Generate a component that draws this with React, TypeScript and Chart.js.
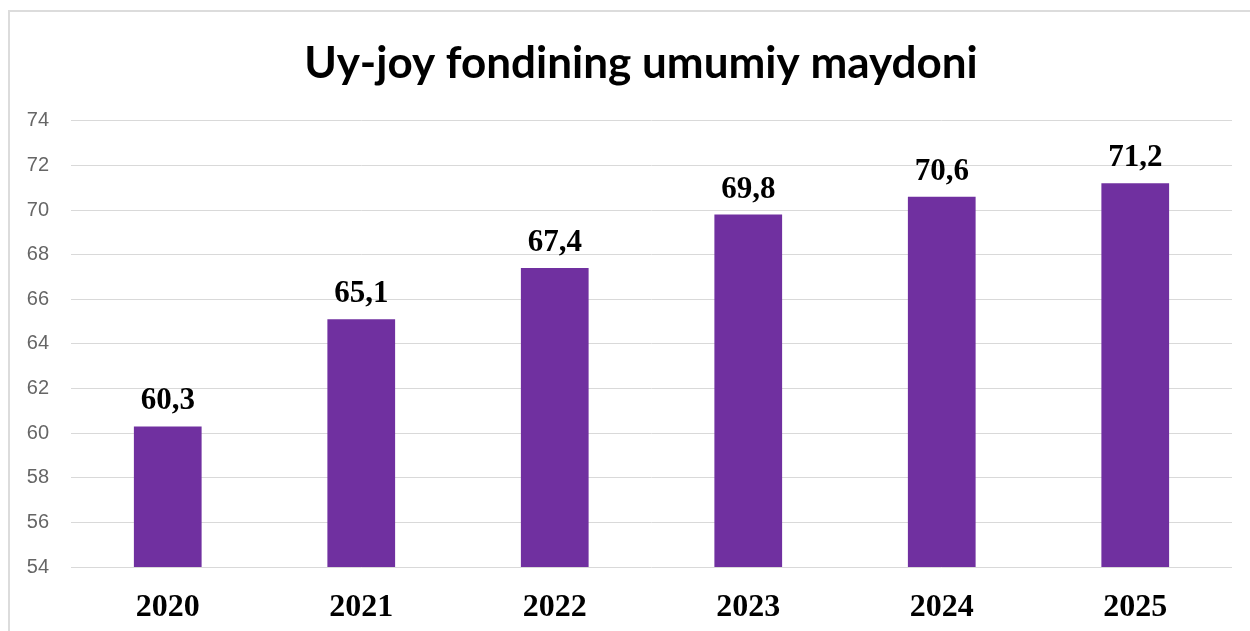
import React, { useEffect, useRef } from "react";
import { Chart, registerables } from "chart.js";

Chart.register(...registerables);

const TITLE = "Uy-joy fondining umumiy maydoni";
const YEARS = ["2020", "2021", "2022", "2023", "2024", "2025"];
const VALUES = [60.3, 65.1, 67.4, 69.8, 70.6, 71.2];
const Y_MIN = 54;
const Y_MAX = 74;
const Y_STEP = 2;

const BAR_COLOR = "#7030A0";
const GRID_COLOR = "#d9d9d9";

const fmt = (v: number) => v.toFixed(1).replace(".", ",");

const valueLabels = {
  id: "valueLabels",
  afterDatasetsDraw(chart: any) {
    const ctx = chart.ctx;
    const meta = chart.getDatasetMeta(0);
    ctx.save();
    ctx.font = "bold 31px 'Liberation Serif', 'Times New Roman', serif";
    ctx.fillStyle = "#000";
    ctx.textAlign = "center";
    ctx.textBaseline = "alphabetic";
    meta.data.forEach((bar: any, i: number) => {
      ctx.fillText(fmt(VALUES[i]), bar.x, bar.y - 17);
    });
    ctx.restore();
  },
};

// let the y-axis labels draw to the left of the (narrow) axis box
const widenYClip = {
  id: "widenYClip",
  afterLayout(chart: any) {
    const y = chart.scales.y;
    if (y) y.left = 0;
  },
};

export default function App() {
  const ref = useRef<HTMLCanvasElement | null>(null);

  useEffect(() => {
    document.body.style.overflow = "hidden";
    const chart = new Chart(ref.current as HTMLCanvasElement, {
      type: "bar",
      data: {
        labels: YEARS,
        datasets: [
          {
            data: VALUES,
            backgroundColor: BAR_COLOR,
            borderWidth: 0,
            barPercentage: 0.35,
            categoryPercentage: 1,
          },
        ],
      },
      options: {
        responsive: false,
        animation: false,
        layout: { padding: { left: 42, right: 18, top: 0, bottom: 0 } },
        plugins: {
          legend: { display: false },
          tooltip: { enabled: false },
          title: {
            display: true,
            text: TITLE,
            color: "#000",
            font: { family: "Lato, 'Open Sans', sans-serif", size: 44, weight: "bold" },
            padding: { top: 27, bottom: 31 },
          },
        },
        scales: {
          x: {
            grid: { display: false, drawTicks: false },
            border: { display: false },
            ticks: {
              color: "#000",
              font: { family: "'Liberation Serif', 'Times New Roman', serif", size: 32, weight: "bold" },
              padding: 22,
            },
            afterFit: (scale: any) => {
              scale.height = 64;
            },
          },
          y: {
            min: Y_MIN,
            max: Y_MAX,
            grid: { color: GRID_COLOR, lineWidth: 1, drawTicks: false },
            border: { display: false },
            ticks: {
              stepSize: Y_STEP,
              color: "#666666",
              font: { family: "'Liberation Sans', Arial, sans-serif", size: 20 },
              padding: 22,
            },
            afterFit: (scale: any) => {
              scale.width = 21;
            },
          },
        },
      },
      plugins: [valueLabels, widenYClip],
    } as any);
    return () => chart.destroy();
  }, []);

  return (
    <div>
      <div
        style={{
          position: "absolute",
          left: 8,
          top: 10,
          width: 1242,
          height: 621,
          background: "#fff",
        }}
      >
        <canvas ref={ref} width={1242} height={621} style={{ width: 1242, height: 621, display: "block" }} />
      </div>
      <div
        style={{
          position: "absolute",
          left: 8,
          top: 10,
          width: 1242,
          height: 621,
          borderTop: "2px solid #dcdcdc",
          borderLeft: "2px solid #dcdcdc",
          boxSizing: "border-box",
          pointerEvents: "none",
        }}
      />
    </div>
  );
}
